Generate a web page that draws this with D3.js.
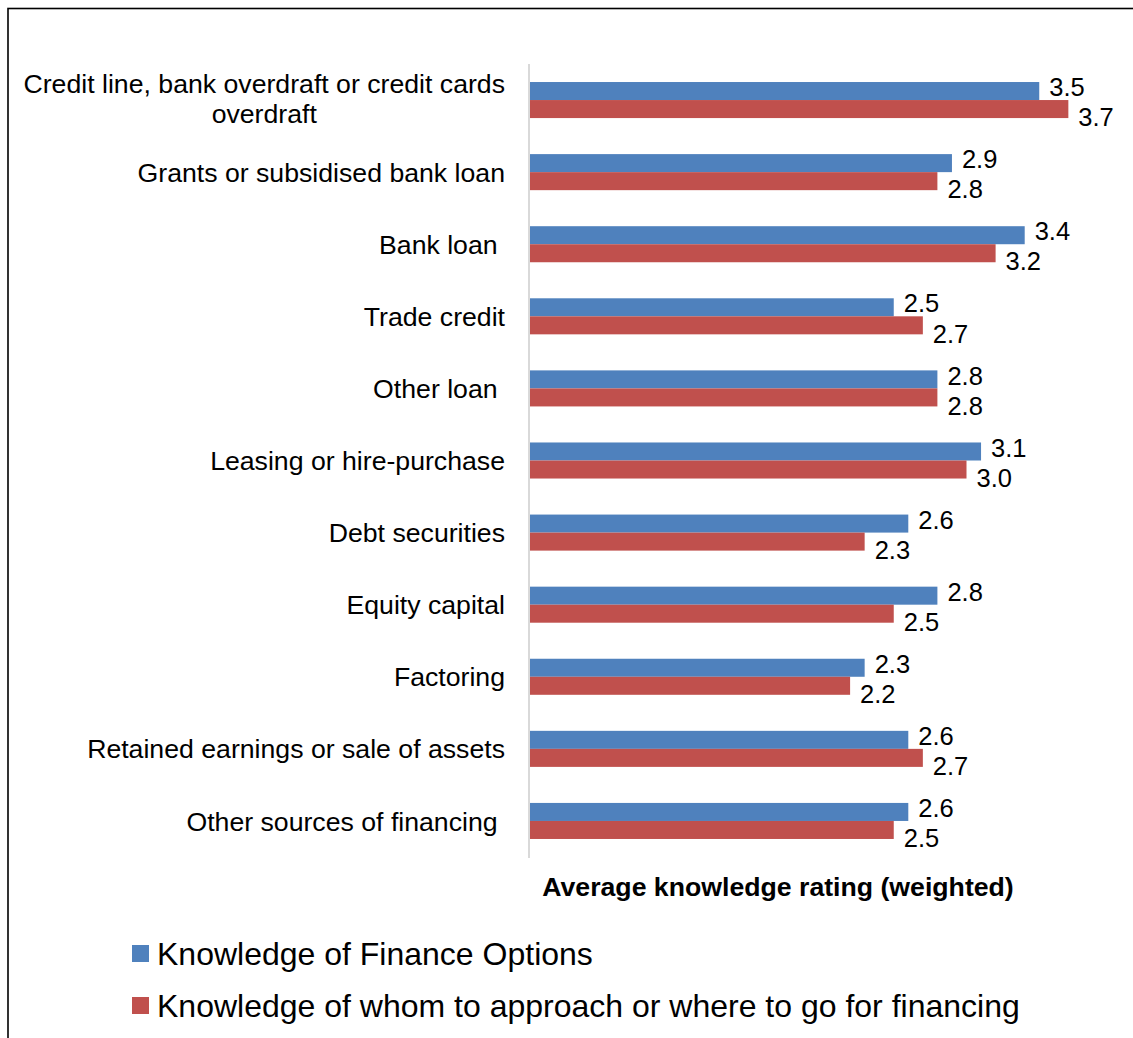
<!DOCTYPE html>
<html>
<head>
<meta charset="utf-8">
<script src="https://cdn.jsdelivr.net/npm/d3@7/dist/d3.min.js"></script>
<style>
  html, body { margin: 0; padding: 0; background: #fff; }
  svg { display: block; font-family: "Liberation Sans", Arial, sans-serif; }
</style>
</head>
<body>
<svg id="chart" width="1133" height="1038"></svg>
<script>
// Finance sources, top to bottom (array entries are the label lines)
const categories = [
  ["Credit line, bank overdraft or credit cards", "overdraft"],
  ["Grants or subsidised bank loan"],
  ["Bank loan\u00a0"],
  ["Trade credit"],
  ["Other loan\u00a0"],
  ["Leasing or hire-purchase"],
  ["Debt securities"],
  ["Equity capital"],
  ["Factoring"],
  ["Retained earnings or sale of assets"],
  ["Other sources of financing\u00a0"]
];
const optionsKnowledge  = [3.5, 2.9, 3.4, 2.5, 2.8, 3.1, 2.6, 2.8, 2.3, 2.6, 2.6];
const whomKnowledge     = [3.7, 2.8, 3.2, 2.7, 2.8, 3.0, 2.3, 2.5, 2.2, 2.7, 2.5];
const seriesNames = [
  "Knowledge of Finance Options",
  "Knowledge of whom to approach or where to go for financing"
];
const axisTitle = "Average knowledge rating (weighted)";
const xDomain = [0, 4];

const colors = ["#4F81BD", "#C0504D"];
const series = [optionsKnowledge, whomKnowledge];

const svg = d3.select("#chart");

// outer frame (runs off the right and bottom edges)
svg.append("rect")
  .attr("x", 8).attr("y", 8.5)
  .attr("width", 1400).attr("height", 1400)
  .attr("fill", "none").attr("stroke", "#000").attr("stroke-width", 1.6);

const plot = { left: 530, top: 64, bottom: 857 };

const x = d3.scaleLinear().domain(xDomain).range([plot.left, plot.left + 582]);
const y = d3.scaleBand()
  .domain(d3.range(categories.length))
  .range([plot.top, plot.bottom])
  .paddingInner(0.5)
  .paddingOuter(0.25);
const inner = d3.scaleBand().domain([0, 1]).range([0, y.bandwidth()]);

// category axis line
svg.append("line")
  .attr("x1", plot.left - 1).attr("x2", plot.left - 1)
  .attr("y1", plot.top).attr("y2", plot.bottom + 1)
  .attr("stroke", "#D9D9D9").attr("stroke-width", 2);

// bars
series.forEach((vals, s) => {
  svg.append("g").selectAll("rect")
    .data(vals)
    .join("rect")
    .attr("x", x(0))
    .attr("y", (d, i) => y(i) + inner(s))
    .attr("width", d => x(d) - x(0))
    .attr("height", inner.bandwidth())
    .attr("fill", colors[s]);
});

// value labels: the first series sits a little above its bar, the second below
const labelShift = [-4, 8];
series.forEach((vals, s) => {
  svg.append("g").selectAll("text")
    .data(vals)
    .join("text")
    .attr("x", d => x(d) + 10)
    .attr("y", (d, i) => y(i) + inner(s) + inner.bandwidth() / 2 + labelShift[s])
    .attr("dy", "0.36em")
    .attr("font-size", 25.5)
    .attr("fill", "#000")
    .text(d => d.toFixed(1));
});

// category labels (multi-line labels are centred as a block)
const catG = svg.append("g");
categories.forEach((lines, i) => {
  const cy = y(i) + y.bandwidth() / 2;
  const lh = 30;
  const t = catG.append("text")
    .attr("font-size", 26.67)
    .attr("fill", "#000")
    .attr("text-anchor", lines.length > 1 ? "middle" : "end");
  if (lines.length > 1) {
    // measure the widest line so the block stays right-aligned to the axis
    const probe = svg.append("text").attr("font-size", 26.67).text(lines[0]);
    const w = probe.node().getComputedTextLength();
    probe.remove();
    const cx = 505 - w / 2;
    lines.forEach((ln, k) => {
      t.append("tspan")
        .attr("x", cx)
        .attr("y", cy + (k - (lines.length - 1) / 2) * lh - 2)
        .attr("dy", "0.36em")
        .text(ln);
    });
  } else {
    t.attr("x", 505).attr("y", cy).attr("dy", "0.36em").text(lines[0]);
  }
});

// axis title
svg.append("text")
  .attr("x", 778).attr("y", 886)
  .attr("dy", "0.36em")
  .attr("text-anchor", "middle")
  .attr("font-size", 26.67)
  .attr("font-weight", "bold")
  .text(axisTitle);

// legend
const legend = svg.append("g");
seriesNames.forEach((name, s) => {
  const ly = 953.5 + s * 52;
  legend.append("rect")
    .attr("x", 132).attr("y", ly - 8.5)
    .attr("width", 17).attr("height", 17)
    .attr("fill", colors[s]);
  legend.append("text")
    .attr("x", 157).attr("y", ly)
    .attr("dy", "0.36em")
    .attr("font-size", 32)
    .text(name);
});
</script>
</body>
</html>
